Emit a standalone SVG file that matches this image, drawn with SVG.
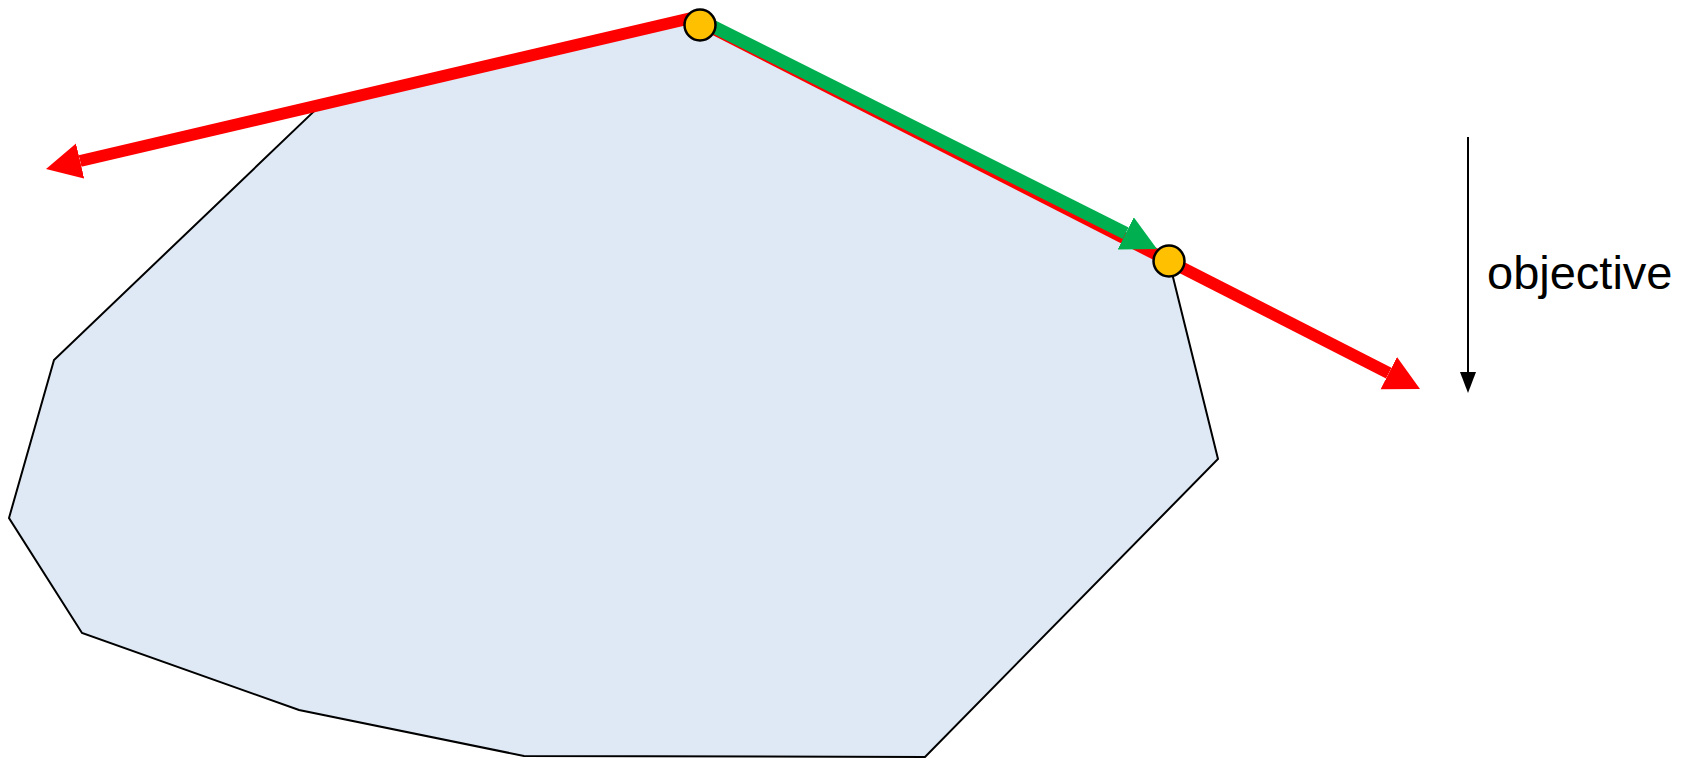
<svg xmlns="http://www.w3.org/2000/svg" width="1693" height="758" viewBox="0 0 1693 758">
  <style>
    .region { fill: #DEE9F5; stroke: #000000; stroke-width: 2; stroke-linejoin: miter; }
    .red { stroke: #FF0000; stroke-width: 12; fill: none; }
    .green { stroke: #00B050; stroke-width: 13; fill: none; }
    .vertex { fill: #FFC000; stroke: #000000; stroke-width: 2.5; }
    .obj { stroke: #000000; stroke-width: 2; fill: none; }
    .label { font-family: "Liberation Sans", Arial, sans-serif; font-size: 47px; fill: #000000; }
  </style>
  <defs>
    <marker id="headRed" markerUnits="userSpaceOnUse" markerWidth="40" markerHeight="40" refX="0" refY="18" orient="auto">
      <path d="M0,0 L35,18 L0,36 Z" fill="#FF0000"/>
    </marker>
    <marker id="headGreen" markerUnits="userSpaceOnUse" markerWidth="40" markerHeight="40" refX="0" refY="18" orient="auto">
      <path d="M0,0 L35,18 L0,36 Z" fill="#00B050"/>
    </marker>
    <marker id="headBlack" markerUnits="userSpaceOnUse" markerWidth="24" markerHeight="20" refX="0" refY="8" orient="auto">
      <path d="M0,0 L21,8 L0,16 Z" fill="#000000"/>
    </marker>
  </defs>

  <g id="feasible-region">
    <polygon class="region" points="700,19 1169,261 1218,459 925,757 524,756 299,710 82,633 9,518 54,360 321,104.6"/>
  </g>

  <g id="connectors">
    <line class="red" x1="700" y1="16" x2="80.1" y2="161" marker-end="url(#headRed)"/>
    <line class="red" x1="700" y1="22" x2="1388.8" y2="373.1" marker-end="url(#headRed)"/>
    <line class="green" x1="700" y1="20" x2="1125.7" y2="233.3" marker-end="url(#headGreen)"/>
    <line class="obj" x1="1468" y1="137" x2="1468" y2="372" marker-end="url(#headBlack)"/>
  </g>

  <g id="vertex-top">
    <circle class="vertex" cx="700" cy="25" r="15.5"/>
  </g>
  <g id="vertex-right">
    <circle class="vertex" cx="1169" cy="261" r="15.5"/>
  </g>

  <g id="objective-label">
    <text class="label" x="1487" y="289">objective</text>
  </g>
</svg>
